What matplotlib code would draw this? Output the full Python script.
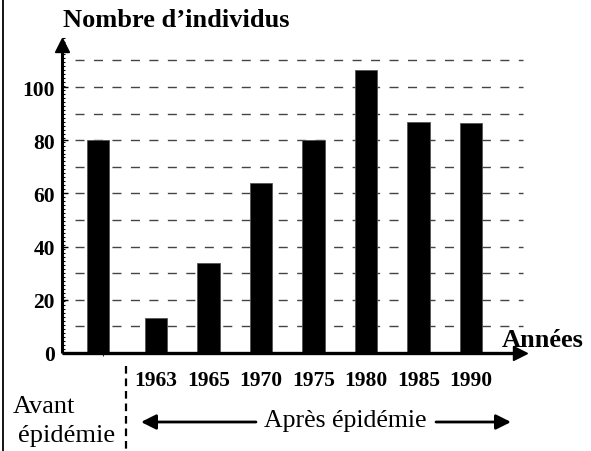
import numpy as np
import matplotlib
matplotlib.use('Agg')
import matplotlib.pyplot as plt
from matplotlib.lines import Line2D
from matplotlib.ticker import MultipleLocator

plt.rcParams['font.family'] = ['Liberation Serif', 'DejaVu Serif']
plt.rcParams['lines.scale_dashes'] = False

# --- data ---
categories = ['Avant', '1963', '1965', '1970', '1975', '1980', '1985', '1990']
counts = [80, 13, 34, 64, 80, 106.5, 87, 86.5]
positions = [-0.1, 1, 2, 3, 4, 5, 6, 7]
yticks = [0, 20, 40, 60, 80, 100]
grid_levels = [10, 20, 30, 40, 50, 60, 70, 80, 90, 100, 110]

W, H = 591, 452
fig = plt.figure(figsize=(W / 100, H / 100), dpi=100)

def fx(x):
    return x / W

def fy(y):
    return 1 - y / H

# axes placed so the y axis sits at x=62px, x axis at y=354px
ax = fig.add_axes([fx(62), fy(354), (528 - 62) / W, (354 - 38) / H])
ax.set_xlim(-0.79, 8.086)
ax.set_ylim(0, 118.8)
ax.patch.set_visible(False)

# dashed horizontal guides
ax.hlines(grid_levels, -0.54, 7.99, colors='#444444', linewidth=1.0,
          linestyles=(0, (6.5, 6.8)), zorder=1)

ax.bar(positions, counts, width=0.42, color='black', edgecolor='#555555',
       linewidth=0.6, zorder=2)

for s in ax.spines.values():
    s.set_visible(False)

ax.set_yticks(yticks)
ax.set_yticklabels([str(v) for v in yticks], fontsize=15.5, fontweight='bold')
ax.yaxis.set_minor_locator(MultipleLocator(1.5))
ax.tick_params(axis='y', which='major', direction='in', length=4, width=1, pad=5)
ax.tick_params(axis='y', which='minor', direction='in', length=2.5, width=0.8)
ax.xaxis.set_minor_locator(MultipleLocator(100))

ax.set_xticks(positions[1:])
ax.set_xticklabels(categories[1:], fontsize=15.5, fontweight='bold')
ax.tick_params(axis='x', length=0, pad=12)

# axis lines with triangle heads
ax.plot([0, 0], [0, 0.96], transform=ax.transAxes, color='black', lw=2.2,
        clip_on=False, zorder=5, solid_capstyle='butt')
ax.plot([0, 0.975], [0, 0], transform=ax.transAxes, color='black', lw=2.4,
        clip_on=False, zorder=5, solid_capstyle='butt')
ax.plot([0], [0.975], transform=ax.transAxes, marker='^', markersize=10,
        color='black', clip_on=False, zorder=6)
ax.plot([0.982], [0], transform=ax.transAxes, marker='>', markersize=10,
        color='black', clip_on=False, zorder=6)

# titles
fig.text(fx(63), fy(27), 'Nombre d\u2019individus', fontsize=19,
         fontweight='bold', ha='left', va='baseline')
fig.text(fx(502), fy(347), 'Années', fontsize=19, fontweight='bold',
         ha='left', va='baseline')

# before / after annotations
fig.text(fx(44), fy(407), 'Avant', fontsize=19, ha='center', va='center')
fig.text(fx(67), fy(436), 'épidémie', fontsize=19, ha='center', va='center')
fig.text(fx(345), fy(421), 'Après épidémie', fontsize=18.5, ha='center',
         va='center')

fig.add_artist(Line2D([fx(126), fx(126)], [fy(367), fy(452)], color='black',
                      lw=1.6, linestyle=(0, (5.5, 3.5))))

harrow = dict(arrowstyle='-|>,head_length=0.9,head_width=0.45', color='black',
              lw=2.0, shrinkA=0, shrinkB=0)
fig.add_artist(plt.Annotation('', xy=(fx(141), fy(423)), xytext=(fx(256), fy(423)),
                              xycoords='figure fraction', arrowprops=harrow))
fig.add_artist(plt.Annotation('', xy=(fx(511), fy(423)), xytext=(fx(436), fy(423)),
                              xycoords='figure fraction', arrowprops=harrow))

# frame line on the left edge
fig.add_artist(Line2D([fx(3.3), fx(3.3)], [0, 1], color='black', lw=1.3))

fig.savefig('out.png', dpi=100)
